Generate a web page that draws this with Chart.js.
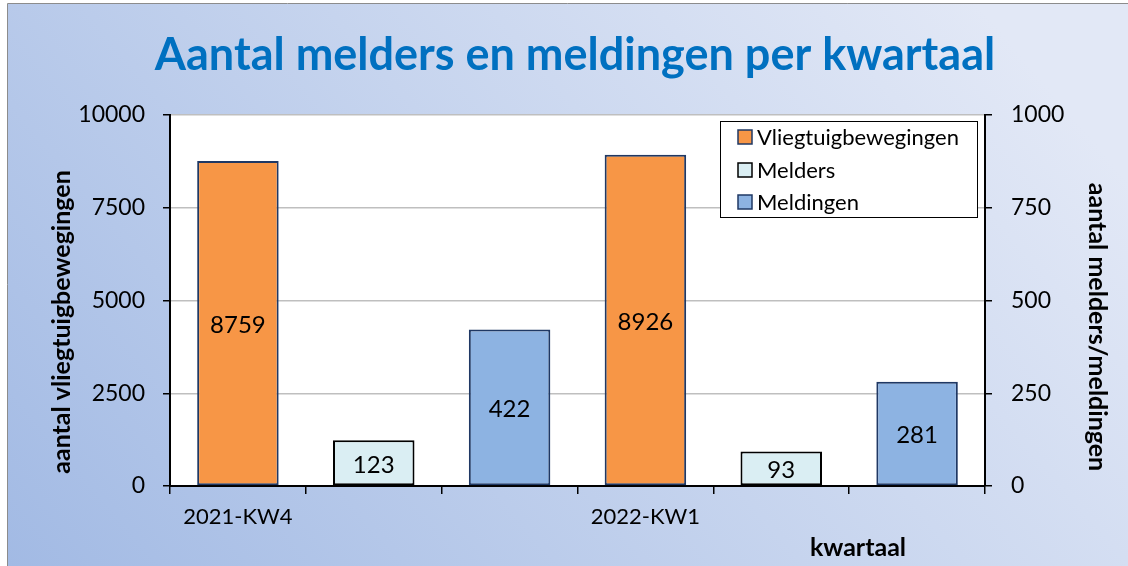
<!DOCTYPE html>
<html>
<head>
<meta charset="utf-8">
<script src="https://cdn.jsdelivr.net/npm/chart.js@4.4.1/dist/chart.umd.min.js"></script>
<style>
html,body{margin:0;padding:0;background:#fff;}
#wrap{width:1128px;height:566px;position:relative;}
</style>
</head>
<body>
<div id="wrap"><canvas id="c" width="1128" height="566"></canvas></div>
<script>
// ---- data ----
const quarters = ['2021-KW4', '2022-KW1'];
const vliegtuigbewegingen = [8759, 8926];
const melders = [123, 93];
const meldingen = [422, 281];
const seriesNames = ['Vliegtuigbewegingen', 'Melders', 'Meldingen'];
const leftTicks = [0, 2500, 5000, 7500, 10000];
const rightTicks = [0, 250, 500, 750, 1000];
const chartTitle = 'Aantal melders en meldingen per kwartaal';
const leftTitle = 'aantal vliegtuigbewegingen';
const rightTitle = 'aantal melders/meldingen';
const xTitle = 'kwartaal';

// build 6 slots: each quarter has 3 slots (one per series)
const slotLabels = [];
const dV = [], dM = [], dN = [];
quarters.forEach((q, i) => {
  slotLabels.push(q, '', '');
  dV.push(vliegtuigbewegingen[i], null, null);
  dM.push(null, melders[i], null);
  dN.push(null, null, meldingen[i]);
});

const FONT = 'Lato, Calibri, sans-serif';

const bgPlugin = {
  id: 'bg',
  beforeDraw(chart) {
    const ctx = chart.ctx;
    const W = chart.width, H = chart.height;
    ctx.save();
    ctx.fillStyle = '#ffffff';
    ctx.fillRect(0, 0, W, H);
    const g = ctx.createLinearGradient(8, H, W * 0.75, -150);
    g.addColorStop(0, '#a2bae4');
    g.addColorStop(0.55, '#c6d4ee');
    g.addColorStop(1, '#e2e8f6');
    ctx.fillStyle = g;
    ctx.fillRect(8, 4, W - 8, H - 4);
    ctx.strokeStyle = '#8c8c8c';
    ctx.lineWidth = 1;
    ctx.beginPath();
    ctx.moveTo(7.5, H);
    ctx.lineTo(7.5, 3.5);
    ctx.lineTo(W, 3.5);
    ctx.stroke();
    const a = chart.chartArea;
    ctx.fillStyle = '#ffffff';
    ctx.fillRect(a.left, a.top, a.right - a.left, a.bottom - a.top);
    ctx.restore();
  }
};

const textPlugin = {
  id: 'texts',
  afterDatasetsDraw(chart) {
    const ctx = chart.ctx;
    ctx.save();
    // value labels inside bars
    ctx.fillStyle = '#000';
    ctx.font = '24px ' + FONT;
    ctx.textAlign = 'center';
    ctx.textBaseline = 'middle';
    chart.data.datasets.forEach((ds, di) => {
      const meta = chart.getDatasetMeta(di);
      meta.data.forEach((el, i) => {
        const v = ds.data[i];
        if (v === null || v === undefined) return;
        ctx.fillText(String(v), el.x, (el.y + el.base) / 2 + 2);
      });
    });
    ctx.restore();
  },
  afterDraw(chart) {
    const ctx = chart.ctx;
    ctx.save();
    // title
    ctx.fillStyle = '#0070c0';
    ctx.font = 'bold 45px ' + FONT;
    ctx.textAlign = 'center';
    ctx.textBaseline = 'alphabetic';
    ctx.fillText(chartTitle, 575, 70);
    // axis titles
    ctx.fillStyle = '#000';
    ctx.font = 'bold 25px ' + FONT;
    ctx.textBaseline = 'middle';
    ctx.save();
    ctx.translate(62, 322);
    ctx.rotate(-Math.PI / 2);
    ctx.fillText(leftTitle, 0, 0);
    ctx.restore();
    ctx.save();
    ctx.translate(1097, 327);
    ctx.rotate(Math.PI / 2);
    ctx.fillText(rightTitle, 0, 0);
    ctx.restore();
    ctx.fillText(xTitle, 858, 548);
    // legend
    const lx = 720.5, ly = 121.5, lw = 257, lh = 96;
    ctx.fillStyle = '#fff';
    ctx.fillRect(lx, ly, lw, lh);
    ctx.strokeStyle = '#000';
    ctx.lineWidth = 1;
    ctx.strokeRect(lx, ly, lw, lh);
    const rowsY = [137, 170, 202];
    ctx.font = '22px ' + FONT;
    ctx.textAlign = 'left';
    chart.data.datasets.forEach((ds, i) => {
      const y = rowsY[i];
      ctx.fillStyle = ds.backgroundColor;
      ctx.fillRect(738, y - 7, 14, 14);
      ctx.strokeStyle = ds.borderColor;
      ctx.lineWidth = 1.5;
      ctx.strokeRect(738, y - 7, 14, 14);
      ctx.fillStyle = '#000';
      ctx.fillText(seriesNames[i], 757, y + 1);
    });
    ctx.restore();
  }
};

const plain = v => String(v);

new Chart(document.getElementById('c'), {
  type: 'bar',
  data: {
    labels: slotLabels,
    datasets: [
      { label: seriesNames[0], data: dV, yAxisID: 'y', backgroundColor: '#f79646', borderColor: '#1f3864', borderWidth: 2, borderSkipped: false },
      { label: seriesNames[1], data: dM, yAxisID: 'y1', backgroundColor: '#daeef3', borderColor: '#000000', borderWidth: 2, borderSkipped: false },
      { label: seriesNames[2], data: dN, yAxisID: 'y1', backgroundColor: '#8db3e2', borderColor: '#1f3864', borderWidth: 2, borderSkipped: false }
    ]
  },
  options: {
    responsive: false,
    animation: false,
    devicePixelRatio: 1,
    skipNull: true,
    categoryPercentage: 1.0,
    barPercentage: 0.6,
    layout: { padding: { left: 8, right: 0, top: 115, bottom: 0 } },
    plugins: { legend: { display: false }, title: { display: false }, tooltip: { enabled: false } },
    scales: {
      x: {
        grid: { offset: true, drawOnChartArea: false, tickLength: 8, color: '#000', lineWidth: 1.5 },
        border: { color: '#000', width: 2 },
        ticks: { color: '#000', font: { family: FONT, size: 22 }, padding: 10, maxRotation: 0, autoSkip: false },
        afterFit: s => { s.height = 80; }
      },
      y: {
        position: 'left', min: 0, max: 10000,
        afterBuildTicks: s => { s.ticks = leftTicks.map(v => ({ value: v })); },
        grid: { color: '#bfbfbf', lineWidth: 1.5, tickColor: '#000', tickLength: 7 },
        border: { color: '#000', width: 2 },
        ticks: { color: '#000', font: { family: FONT, size: 23 }, padding: 18, callback: plain },
        afterFit: s => { s.width = 162; }
      },
      y1: {
        position: 'right', min: 0, max: 1000,
        afterBuildTicks: s => { s.ticks = rightTicks.map(v => ({ value: v })); },
        grid: { drawOnChartArea: false, color: '#000', tickColor: '#000', tickLength: 7, lineWidth: 1.5 },
        border: { color: '#000', width: 2 },
        ticks: { color: '#000', font: { family: FONT, size: 23 }, padding: 19, callback: plain },
        afterFit: s => { s.width = 143; }
      }
    }
  },
  plugins: [bgPlugin, textPlugin]
});
</script>
</body>
</html>
